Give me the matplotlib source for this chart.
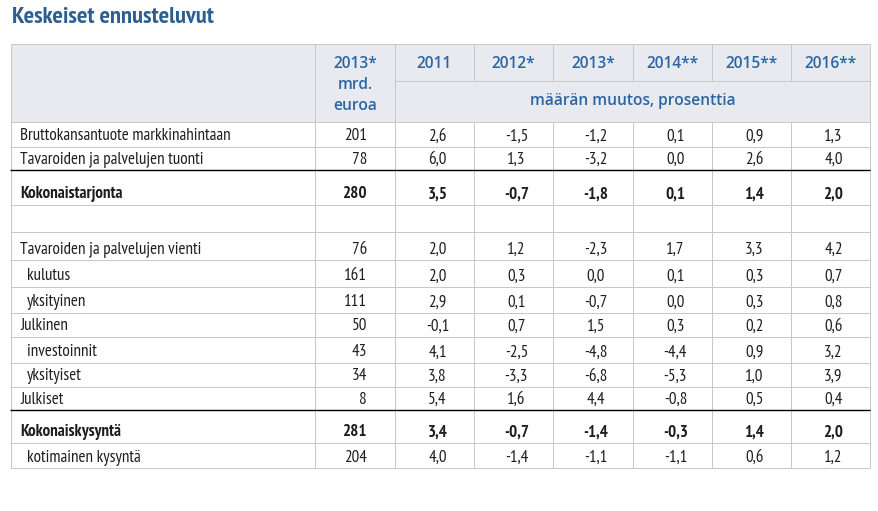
import matplotlib
matplotlib.use("Agg")
import matplotlib.pyplot as plt

# table content
title = "Keskeiset ennusteluvut"
year_cols = ["2011", "2012*", "2013*", "2014**", "2015**", "2016**"]
level_head = ["2013*", "mrd.", "euroa"]
unit_text = "määrän muutos, prosenttia"

row_labels = [
    "Bruttokansantuote markkinahintaan",
    "Tavaroiden ja palvelujen tuonti",
    "Kokonaistarjonta",
    "",
    "Tavaroiden ja palvelujen vienti",
    "kulutus",
    "yksityinen",
    "Julkinen",
    "investoinnit",
    "yksityiset",
    "Julkiset",
    "Kokonaiskysyntä",
    "kotimainen kysyntä",
]
indented = [0, 0, 0, 0, 0, 1, 1, 0, 1, 1, 0, 0, 1]
bold_rows = [0, 0, 1, 0, 0, 0, 0, 0, 0, 0, 0, 1, 0]
mrd_euroa = [201, 78, 280, None, 76, 161, 111, 50, 43, 34, 8, 281, 204]
changes = [
    [2.6, -1.5, -1.2, 0.1, 0.9, 1.3],
    [6.0, 1.3, -3.2, 0.0, 2.6, 4.0],
    [3.5, -0.7, -1.8, 0.1, 1.4, 2.0],
    None,
    [2.0, 1.2, -2.3, 1.7, 3.3, 4.2],
    [2.0, 0.3, 0.0, 0.1, 0.3, 0.7],
    [2.9, 0.1, -0.7, 0.0, 0.3, 0.8],
    [-0.1, 0.7, 1.5, 0.3, 0.2, 0.6],
    [4.1, -2.5, -4.8, -4.4, 0.9, 3.2],
    [3.8, -3.3, -6.8, -5.3, 1.0, 3.9],
    [5.4, 1.6, 4.4, -0.8, 0.5, 0.4],
    [3.4, -0.7, -1.4, -0.3, 1.4, 2.0],
    [4.0, -1.4, -1.1, -1.1, 0.6, 1.2],
]

# layout (pixels)
W, H = 879, 511
col_x = [11, 315, 395, 474, 553, 633, 712, 791, 870]
top, mid, head_bot = 44, 81, 122
row_edges = [122, 147, 170, 205, 232, 260, 287, 313, 337, 363, 387, 410, 443, 468]
black_after = [1, 10]

grid_c = "#c8c8c8"
head_bg = "#e9eaf0"
blue = "#2b66a3"
title_c = "#2c5f90"
txt_c = "#1e1e1e"
narrow = ["PT Sans Narrow", "DejaVu Sans"]
headfont = ["Open Sans", "DejaVu Sans"]
px = 0.72  # points per pixel

fig = plt.figure(figsize=(W / 100, H / 100), dpi=100)
ax = fig.add_axes([0, 0, 1, 1])
ax.set_xlim(0, W)
ax.set_ylim(H, 0)
ax.axis("off")

ax.text(12, 23, title, family=narrow, weight="bold", fontsize=24.5 * px,
        color=title_c, va="baseline", ha="left")

# header background
ax.fill_between([col_x[0], col_x[-1]], top, head_bot, color=head_bg, lw=0)

# grid lines
lw = 1.0 * px
ax.hlines(top, col_x[0], col_x[-1], color=grid_c, lw=lw)
ax.hlines(mid, col_x[2], col_x[-1], color=grid_c, lw=lw)
for i, y in enumerate(row_edges):
    if i - 1 in black_after:
        ax.hlines(y, 10, col_x[-1], color="black", lw=1.4 * px, zorder=3)
    else:
        ax.hlines(y, col_x[0], col_x[-1], color=grid_c, lw=lw)
for j, x in enumerate(col_x):
    ax.vlines(x, row_edges[0], row_edges[-1], color=grid_c, lw=lw)
    if j <= 2 or j == len(col_x) - 1:
        ax.vlines(x, top, head_bot, color=grid_c, lw=lw)
    else:
        ax.vlines(x, top, mid, color=grid_c, lw=lw)

# header text
hsize = 15.5 * px
hx = (col_x[1] + col_x[2]) / 2
for k, s in enumerate(level_head):
    ax.text(hx, 68 + k * 21, s, family=headfont, weight="semibold",
            fontsize=hsize, color=blue, ha="center", va="baseline")
for j, s in enumerate(year_cols):
    cx = (col_x[j + 2] + col_x[j + 3]) / 2
    ax.text(cx, 68, s, family=headfont, weight="semibold",
            fontsize=hsize, color=blue, ha="center", va="baseline")
ax.text((col_x[2] + col_x[-1]) / 2, 105, unit_text, family=headfont,
        weight="semibold", fontsize=hsize, color=blue,
        ha="center", va="baseline")


def fmt(v):
    return ("%.1f" % v).replace(".", ",")


# body text
bsize = 17 * px
for i, lab in enumerate(row_labels):
    yb = row_edges[i + 1] - 6.5
    w = "bold" if bold_rows[i] else "normal"
    x0 = 27 if indented[i] else 20
    ax.text(x0, yb, lab, family=narrow, weight=w, fontsize=bsize,
            color=txt_c, ha="left", va="baseline")
    if mrd_euroa[i] is not None:
        ax.text(367, yb, str(mrd_euroa[i]), family=narrow, weight=w,
                fontsize=bsize, color=txt_c, ha="right", va="baseline")
    if changes[i] is not None:
        for j, v in enumerate(changes[i]):
            cx = (col_x[j + 2] + col_x[j + 3]) / 2 + 3
            ax.text(cx, yb, fmt(v), family=narrow, weight=w,
                    fontsize=bsize, color=txt_c, ha="center", va="baseline")

fig.savefig("out.png", dpi=100)
